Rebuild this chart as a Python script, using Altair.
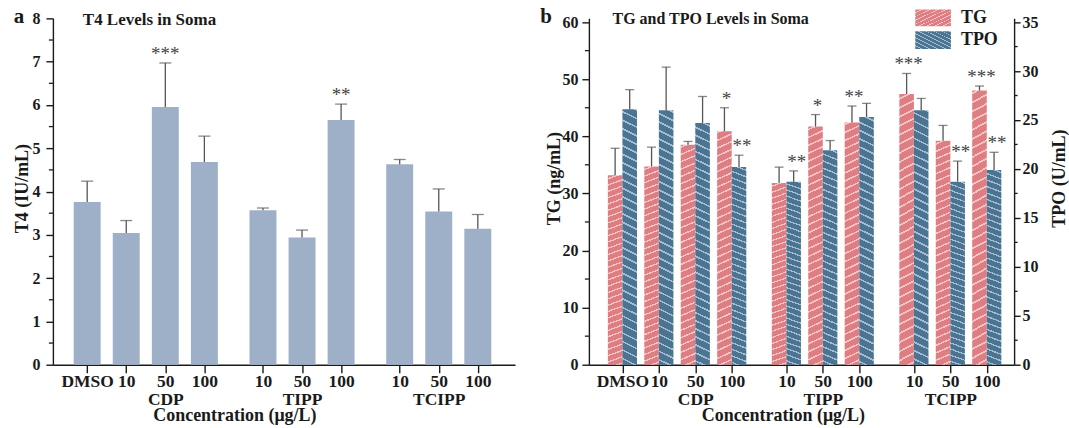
import altair as alt
import pandas as pd

# ---------------- data ----------------
doses = ["DMSO", "10", "50", "100", "10", "50", "100", "10", "50", "100"]
positions = [0, 1, 2, 3, 4.5, 5.5, 6.5, 8, 9, 10]
group_names = ["CDP", "TIPP", "TCIPP"]
group_label_pos = [2, 5.5, 9]

t4_mean = [3.76, 3.04, 5.95, 4.68, 3.57, 2.94, 5.65, 4.63, 3.54, 3.14]
t4_upper = [4.24, 3.33, 6.97, 5.28, 3.62, 3.11, 6.02, 4.74, 4.06, 3.47]
t4_sig = ["", "", "***", "", "", "", "**", "", "", ""]

tg_mean = [33.2, 34.7, 38.5, 40.9, 31.8, 41.7, 42.4, 47.4, 39.2, 48.0]
tg_upper = [37.9, 38.1, 39.1, 45.0, 34.6, 43.8, 45.3, 51.0, 41.9, 48.8]
tg_sig = ["", "", "", "*", "", "*", "**", "***", "", "***"]

tpo_mean = [26.1, 26.0, 24.7, 20.2, 18.7, 21.9, 25.3, 26.0, 18.7, 19.9]
tpo_upper = [28.1, 30.4, 27.4, 21.4, 19.8, 22.9, 26.7, 27.2, 20.8, 21.7]
tpo_sig = ["", "", "", "**", "**", "", "", "", "**", "**"]

t4_ticks = [0, 1, 2, 3, 4, 5, 6, 7, 8]
t4_minor = [0.5, 1.5, 2.5, 3.5, 4.5, 5.5, 6.5, 7.5]
tg_ticks = [0, 10, 20, 30, 40, 50, 60]
tg_minor = [5, 15, 25, 35, 45, 55]
tpo_ticks = [0, 5, 10, 15, 20, 25, 30, 35]
tpo_minor = [2.5, 7.5, 12.5, 17.5, 22.5, 27.5, 32.5]

series_names = ["TG", "TPO"]

# ---------------- styling ----------------
FONT = "Liberation Serif"
INK = "#1a1a1a"
ERR = "#555555"
STAR = "#444444"
T4_COLOR = "#9DB0C8"
TG_COLOR, TG_LINE = "#DE7E83", "#F3C3C4"
TPO_COLOR, TPO_LINE = "#4B7492", "#A3BDD0"

CANVAS_W, CANVAS_H = 1069, 428
ORIGIN_X, ORIGIN_Y = 52, 17
LW, LH = 463, 347
RW, RH = 426, 347
BAR_W = 0.4


def hatch(base, line, n, rising=True, frac=0.22):
    stops = []
    for k in range(n):
        a = round(k / n, 5)
        b = round((k + 1 - frac) / n, 5)
        c = round((k + 1) / n, 5)
        stops += [{"offset": a, "color": base}, {"offset": b, "color": base},
                  {"offset": b, "color": line}, {"offset": c, "color": line}]
    if rising:
        coords = dict(x1=0, y1=0, x2=1, y2=1)
    else:
        coords = dict(x1=0, y1=1, x2=1, y2=0)
    return {"gradient": "linear", "stops": stops, **coords}


def label_expr():
    expr = "''"
    for p, d in reversed(list(zip(positions, doses))):
        lines = [d]
        if p in group_label_pos:
            lines.append(group_names[group_label_pos.index(p)])
        arr = "[" + ",".join(f"'{s}'" for s in lines) + "]"
        expr = f"datum.value == {p} ? {arr} : {expr}"
    return expr


def x_axis(title_x):
    return alt.Axis(values=positions, labelExpr=label_expr(), tickSize=8, labelPadding=0,
                    labelFontSize=17.5, labelLineHeight=18, labelOverlap=False, labelBound=False,
                    labelFlush=False, title="Concentration (μg/L)", titleFontSize=18,
                    titleX=title_x, titleY=42, titleBaseline="top", titleAlign="center")


# ---------------- left panel ----------------
left_df = pd.DataFrame({"pos": positions, "mean": t4_mean, "upper": t4_upper, "sig": t4_sig})

xl = alt.X("pos:Q", scale=alt.Scale(domain=[-0.75, 10.825], nice=False, zero=False), axis=x_axis(181.8))
yl_scale = alt.Scale(domain=[0, 8], nice=False)
yl = alt.Y("mean:Q", scale=yl_scale,
           axis=alt.Axis(values=t4_ticks, tickSize=7, labelPadding=6, labelFontSize=16,
                         title="T4 (IU/mL)", titleFontSize=18, titleAngle=270,
                         titleBaseline="alphabetic", titleAlign="center", titleX=-25, titleY=170))

# invisible frame that fixes the canvas extent (origin at ORIGIN_X, ORIGIN_Y)
frame = alt.Chart(pd.DataFrame({"k": [0]})).mark_rect(opacity=0).encode(
    x=alt.value(-ORIGIN_X), x2=alt.value(CANVAS_W - ORIGIN_X),
    y=alt.value(-ORIGIN_Y), y2=alt.value(CANVAS_H - ORIGIN_Y))

lbase = alt.Chart(left_df)
l_bars = lbase.mark_bar(size=27, color=T4_COLOR).encode(x=xl, y=yl)
l_err = lbase.mark_rule(color=ERR, strokeWidth=1.3).encode(x=xl, y=yl, y2="upper:Q")
l_cap = lbase.mark_tick(orient="horizontal", size=12, thickness=1.3, color=ERR).encode(
    x=xl, y=alt.Y("upper:Q", scale=yl_scale))
l_star = lbase.mark_text(font=FONT, fontSize=19, color=STAR, baseline="alphabetic", dy=-3).encode(
    x=xl, y=alt.Y("upper:Q", scale=yl_scale), text="sig:N")
l_minor = alt.Chart(pd.DataFrame({"v": t4_minor})).mark_rule(color=INK, strokeWidth=1.3).encode(
    x=alt.value(-4), x2=alt.value(0), y=alt.Y("v:Q", scale=yl_scale))
l_title = alt.Chart(pd.DataFrame({"t": ["T4 Levels in Soma"]})).mark_text(
    font=FONT, fontSize=17, fontWeight="bold", color=INK, align="left", baseline="middle").encode(
    x=alt.value(30), y=alt.value(2), text="t:N")
l_letter = alt.Chart(pd.DataFrame({"t": ["a"]})).mark_text(
    font=FONT, fontSize=21, fontWeight="bold", color=INK, align="center", baseline="middle").encode(
    x=alt.value(-34), y=alt.value(-1), text="t:N")

left = alt.layer(frame, l_bars, l_err, l_cap, l_star, l_minor, l_title, l_letter).properties(width=LW, height=LH)

# ---------------- right panel ----------------
right_df = pd.DataFrame({"pos": positions, "tg": tg_mean, "tg_up": tg_upper, "tg_sig": tg_sig,
                         "tpo": tpo_mean, "tpo_up": tpo_upper, "tpo_sig": tpo_sig})

xr_scale = alt.Scale(domain=[-0.92, 10.75], nice=False, zero=False)
xr_axis = x_axis(194.3)


def xr(field):
    return alt.X(field, type="quantitative", scale=xr_scale, axis=xr_axis)


tg_scale = alt.Scale(domain=[0, 60.65], nice=False)
tpo_scale = alt.Scale(domain=[0, 35.38], nice=False)
tg_axis = alt.Axis(values=tg_ticks, tickSize=7, labelPadding=4, labelFontSize=16, orient="left",
                   title="TG (ng/mL)", titleFontSize=18, titleAngle=270, titleBaseline="alphabetic",
                   titleAlign="center", titleX=-29, titleY=160)
tpo_axis = alt.Axis(values=tpo_ticks, tickSize=6, labelPadding=2, labelFontSize=16, orient="right",
                    title="TPO (U/mL)", titleFontSize=18, titleAngle=270, titleBaseline="alphabetic",
                    titleAlign="center", titleX=50, titleY=160)


def ytg(field):
    return alt.Y(field, type="quantitative", scale=tg_scale, axis=tg_axis)


def ytpo(field):
    return alt.Y(field, type="quantitative", scale=tpo_scale, axis=tpo_axis)


rbase = alt.Chart(right_df).transform_calculate(
    base="0",
    tg_a=f"datum.pos - {BAR_W}", tg_b="datum.pos", tg_c=f"datum.pos - {BAR_W / 2}",
    tpo_a="datum.pos", tpo_b=f"datum.pos + {BAR_W}", tpo_c=f"datum.pos + {BAR_W / 2}")

tg_bars = rbase.mark_bar(fill=hatch(TG_COLOR, TG_LINE, 60, rising=True)).encode(
    x=xr("tg_a"), x2="tg_b:Q", y=ytg("tg"), y2="base:Q")
tg_err = rbase.mark_rule(color=ERR, strokeWidth=1.3).encode(
    x=xr("tg_c"), y=ytg("tg"), y2="tg_up:Q")
tg_cap = rbase.mark_tick(orient="horizontal", size=9, thickness=1.3, color=ERR).encode(
    x=xr("tg_c"), y=ytg("tg_up"))
tg_star = rbase.mark_text(font=FONT, fontSize=19, color=STAR, baseline="alphabetic", dy=-3, dx=2).encode(
    x=xr("tg_c"), y=ytg("tg_up"), text="tg_sig:N")
tg_min = alt.Chart(pd.DataFrame({"v": tg_minor})).mark_rule(color=INK, strokeWidth=1.3).encode(
    x=alt.value(-4), x2=alt.value(0), y=ytg("v"))
tg_layer = alt.layer(tg_bars, tg_err, tg_cap, tg_star, tg_min)

tpo_bars = rbase.mark_bar(fill=hatch(TPO_COLOR, TPO_LINE, 60, rising=False)).encode(
    x=xr("tpo_a"), x2="tpo_b:Q", y=ytpo("tpo"), y2="base:Q")
tpo_err = rbase.mark_rule(color=ERR, strokeWidth=1.3).encode(
    x=xr("tpo_c"), y=ytpo("tpo"), y2="tpo_up:Q")
tpo_cap = rbase.mark_tick(orient="horizontal", size=9, thickness=1.3, color=ERR).encode(
    x=xr("tpo_c"), y=ytpo("tpo_up"))
tpo_star = rbase.mark_text(font=FONT, fontSize=19, color=STAR, baseline="alphabetic", dy=-3, dx=3).encode(
    x=xr("tpo_c"), y=ytpo("tpo_up"), text="tpo_sig:N")
tpo_min = alt.Chart(pd.DataFrame({"v": tpo_minor})).mark_rule(color=INK, strokeWidth=1.3).encode(
    x=alt.value(RW), x2=alt.value(RW + 3.5), y=ytpo("v"))
tpo_layer = alt.layer(tpo_bars, tpo_err, tpo_cap, tpo_star, tpo_min)

r_title = alt.Chart(pd.DataFrame({"t": ["TG and TPO Levels in Soma"]})).mark_text(
    font=FONT, fontSize=16, fontWeight="bold", color=INK, align="left", baseline="middle").encode(
    x=alt.value(23.7), y=alt.value(0.5), text="t:N")
r_letter = alt.Chart(pd.DataFrame({"t": ["b"]})).mark_text(
    font=FONT, fontSize=21, fontWeight="bold", color=INK, align="center", baseline="middle").encode(
    x=alt.value(-43), y=alt.value(-1), text="t:N")

leg_tg = alt.Chart(pd.DataFrame({"k": [series_names[0]]})).mark_rect(
    fill=hatch(TG_COLOR, TG_LINE, 9, rising=True)).encode(
    x=alt.value(327), x2=alt.value(362.7), y=alt.value(-9), y2=alt.value(8))
leg_tpo = alt.Chart(pd.DataFrame({"k": [series_names[1]]})).mark_rect(
    fill=hatch(TPO_COLOR, TPO_LINE, 9, rising=False)).encode(
    x=alt.value(327), x2=alt.value(362.7), y=alt.value(13), y2=alt.value(30.7))
leg_txt_tg = alt.Chart(pd.DataFrame({"k": [series_names[0]]})).mark_text(
    font=FONT, fontSize=18, fontWeight="bold", color=INK, align="left", baseline="middle").encode(
    x=alt.value(372.7), y=alt.value(-0.5), text="k:N")
leg_txt_tpo = alt.Chart(pd.DataFrame({"k": [series_names[1]]})).mark_text(
    font=FONT, fontSize=18, fontWeight="bold", color=INK, align="left", baseline="middle").encode(
    x=alt.value(372.7), y=alt.value(22), text="k:N")

right = alt.layer(tg_layer, tpo_layer, r_title, r_letter, leg_tg, leg_tpo, leg_txt_tg, leg_txt_tpo
                  ).resolve_scale(y="independent").properties(width=RW, height=RH)

chart = alt.hconcat(left, right, spacing=74, bounds="flush").properties(
    padding=0,
).configure_view(stroke="transparent").configure_axis(
    labelFont=FONT, titleFont=FONT, labelFontWeight="bold", titleFontWeight="bold",
    labelColor=INK, titleColor=INK, domainColor=INK, tickColor=INK,
    domainWidth=1.4, tickWidth=1.4, grid=False,
)

chart.save("out.html", embed_options={"renderer": "svg", "actions": False})
